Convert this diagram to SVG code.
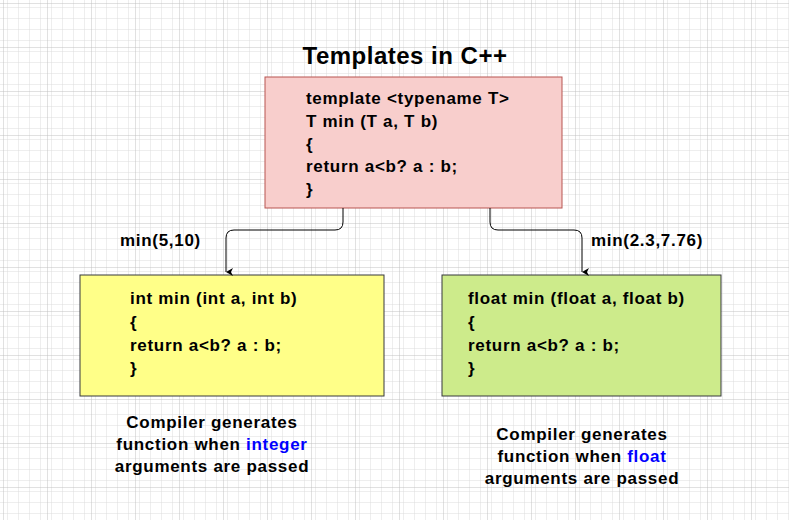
<svg xmlns="http://www.w3.org/2000/svg" width="789" height="520" viewBox="0 0 789 520">
<defs>
<pattern id="minor" width="11" height="11" patternUnits="userSpaceOnUse" x="4" y="4"><path d="M11 0V11H0" fill="none" stroke="#dcdcdc" stroke-width="1"/></pattern>
<pattern id="major" width="44" height="44" patternUnits="userSpaceOnUse" x="4" y="4"><rect width="44" height="44" fill="url(#minor)"/><path d="M44 0V44H0" fill="none" stroke="#c2c2c2" stroke-width="1"/></pattern>
<marker id="arr" markerWidth="8" markerHeight="8" refX="4" refY="7" orient="auto-start-reverse" markerUnits="userSpaceOnUse"><path d="M0 0L4 7L8 0L4 2Z" fill="#000"/></marker>
<style>
text{font-family:"Liberation Sans",Arial,sans-serif;font-weight:bold;font-size:17px;letter-spacing:0.7px;fill:#000}
.blue{fill:#0000ff}
.c{fill:none;stroke:#000;stroke-width:1}
</style>
</defs>
<rect width="789" height="520" fill="#fff"/>
<rect width="789" height="520" fill="url(#major)"/>
<text x="405" y="64" text-anchor="middle" style="font-size:24px;letter-spacing:0.5px">Templates in C++</text>
<g id="template">
<rect x="265" y="77" width="297" height="131" fill="#f8cecc" stroke="#b85450"/>
<text x="306" y="104">template &lt;typename T&gt;</text>
<text x="306" y="127">T min (T a, T b)</text>
<text x="306" y="150">{</text>
<text x="306" y="172">return a&lt;b? a : b;</text>
<text x="306" y="195">}</text>
</g>
<g id="intfn">
<rect x="80" y="275" width="304" height="121" fill="#ffff88" stroke="#36393d"/>
<text x="130" y="304">int min (int a, int b)</text>
<text x="130" y="328">{</text>
<text x="130" y="351">return a&lt;b? a : b;</text>
<text x="130" y="374">}</text>
</g>
<g id="floatfn">
<rect x="442" y="275" width="279" height="121" fill="#cdeb8b" stroke="#36393d"/>
<text x="468" y="304">float min (float a, float b)</text>
<text x="468" y="328">{</text>
<text x="468" y="351">return a&lt;b? a : b;</text>
<text x="468" y="374">}</text>
</g>
<g id="connectors">
<path class="c" d="M343 208V222Q343 230 335 230H234Q226 230 226 238V272" marker-end="url(#arr)"/>
<path class="c" d="M490 208V222Q490 230 498 230H574Q582 230 582 238V272" marker-end="url(#arr)"/>
</g>
<g id="labels">
<text x="120" y="246">min(5,10)</text>
<text x="591" y="246">min(2.3,7.76)</text>
</g>
<g id="note1" text-anchor="middle">
<text x="212" y="428">Compiler generates</text>
<text x="212" y="450">function when <tspan class="blue">integer</tspan></text>
<text x="212" y="472">arguments are passed</text>
</g>
<g id="note2" text-anchor="middle">
<text x="582" y="440">Compiler generates</text>
<text x="582" y="462">function when <tspan class="blue">float</tspan></text>
<text x="582" y="484">arguments are passed</text>
</g>
</svg>
